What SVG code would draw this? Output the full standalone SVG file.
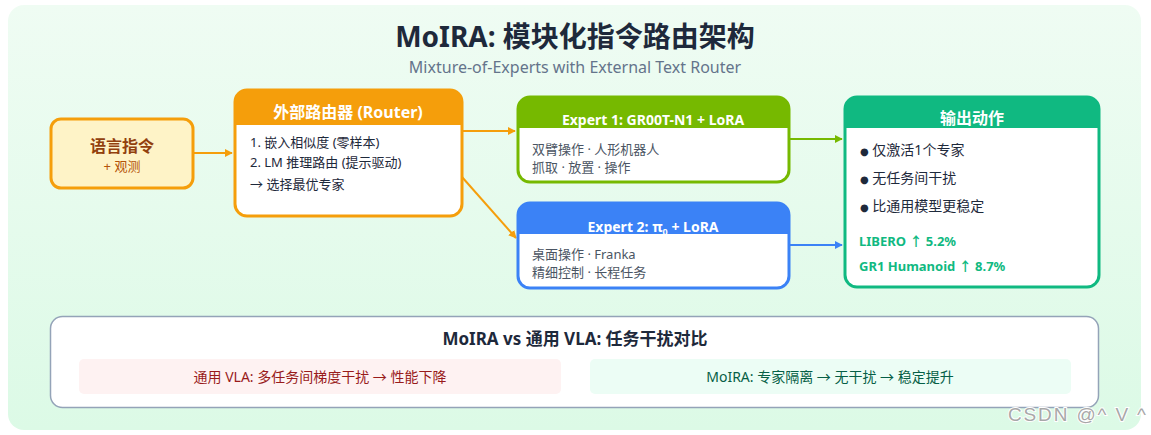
<svg xmlns="http://www.w3.org/2000/svg" width="1151" height="435" viewBox="0 0 1151 435">
<defs>
<linearGradient id="bg" x1="0" y1="0" x2="0" y2="1">
<stop offset="0" stop-color="#effcf3"/>
<stop offset="1" stop-color="#dcfae6"/>
</linearGradient>
<marker id="aO" viewBox="0 0 10 10" refX="9" refY="5" markerWidth="4" markerHeight="4" orient="auto"><path d="M0,0 L10,5 L0,10 z" fill="#f59e0b"/></marker>
<marker id="aG" viewBox="0 0 10 10" refX="9" refY="5" markerWidth="4" markerHeight="4" orient="auto"><path d="M0,0 L10,5 L0,10 z" fill="#76b900"/></marker>
<marker id="aB" viewBox="0 0 10 10" refX="9" refY="5" markerWidth="4" markerHeight="4" orient="auto"><path d="M0,0 L10,5 L0,10 z" fill="#3b82f6"/></marker>
</defs>
<style>
text{font-family:"Noto Sans","Noto Sans CJK SC",sans-serif;}
.hd{fill:#fff;font-weight:bold;text-anchor:middle;}
.body{font-size:13px;fill:#1e293b;}
.out{font-size:14px;fill:#1e293b;}
.gray{font-size:13px;fill:#4b5563;}
.stat{font-size:13px;fill:#10b981;font-weight:bold;}
.dot{font-family:"DejaVu Sans",sans-serif;font-size:10px;}
</style>
<rect x="8" y="5" width="1133" height="425" rx="16" fill="url(#bg)"/>
<text x="575" y="47" font-size="28" font-weight="bold" fill="#1e293b" text-anchor="middle">MoIRA: 模块化指令路由架构</text>
<text x="575" y="73" font-size="16" fill="#64748b" text-anchor="middle">Mixture-of-Experts with External Text Router</text>

<g id="connectors" fill="none" stroke-width="2">
<line x1="193" y1="153" x2="232" y2="153" stroke="#f59e0b" marker-end="url(#aO)"/>
<line x1="462" y1="131" x2="515" y2="131" stroke="#f59e0b" marker-end="url(#aO)"/>
<line x1="462" y1="177" x2="516" y2="238" stroke="#f59e0b" marker-end="url(#aO)"/>
<line x1="789" y1="139" x2="842" y2="139" stroke="#76b900" marker-end="url(#aG)"/>
<line x1="789" y1="245" x2="842" y2="245" stroke="#3b82f6" marker-end="url(#aB)"/>
</g>

<g id="input">
<rect x="51" y="119" width="142" height="69" rx="10" fill="#fef3c7" stroke="#f59e0b" stroke-width="3"/>
<text x="122" y="152" font-size="16" font-weight="bold" fill="#92400e" text-anchor="middle">语言指令</text>
<text x="122" y="171" font-size="13" fill="#b45309" text-anchor="middle">+ 观测</text>
</g>

<g id="router">
<rect x="235" y="90" width="227" height="126" rx="12" fill="#fff" stroke="#f59e0b" stroke-width="3"/>
<path d="M235,125 V102 a12,12 0 0 1 12,-12 H450 a12,12 0 0 1 12,12 V125 Z" fill="#f59e0b"/>
<text class="hd" x="348" y="118" font-size="16">外部路由器 (Router)</text>
<text class="body" x="250" y="147">1. 嵌入相似度 (零样本)</text>
<text class="body" x="250" y="167">2. LM 推理路由 (提示驱动)</text>
<text class="body" x="250" y="189">→ 选择最优专家</text>
</g>

<g id="expert1">
<rect x="518" y="97" width="271" height="85" rx="12" fill="#fff" stroke="#76b900" stroke-width="3"/>
<path d="M518,128 V109 a12,12 0 0 1 12,-12 H777 a12,12 0 0 1 12,12 V128 Z" fill="#76b900"/>
<text class="hd" x="653" y="125" font-size="14">Expert 1: GR00T-N1 + LoRA</text>
<text class="gray" x="532" y="154">双臂操作 · 人形机器人</text>
<text class="gray" x="532" y="172">抓取 · 放置 · 操作</text>
</g>

<g id="expert2">
<rect x="518" y="203" width="271" height="85" rx="12" fill="#fff" stroke="#3b82f6" stroke-width="3"/>
<path d="M518,234 V215 a12,12 0 0 1 12,-12 H777 a12,12 0 0 1 12,12 V234 Z" fill="#3b82f6"/>
<text class="hd" x="653" y="232" font-size="14">Expert 2: π<tspan font-size="9" dy="3">0</tspan><tspan dy="-3"> + LoRA</tspan></text>
<text class="gray" x="532" y="259">桌面操作 · Franka</text>
<text class="gray" x="532" y="277">精细控制 · 长程任务</text>
</g>

<g id="output">
<rect x="845" y="97" width="254" height="190" rx="12" fill="#fff" stroke="#10b981" stroke-width="3"/>
<path d="M845,128 V109 a12,12 0 0 1 12,-12 H1087 a12,12 0 0 1 12,12 V128 Z" fill="#10b981"/>
<text class="hd" x="972" y="124" font-size="16">输出动作</text>
<text class="out" x="860" y="155"><tspan class="dot">●</tspan> 仅激活1个专家</text>
<text class="out" x="860" y="183"><tspan class="dot">●</tspan> 无任务间干扰</text>
<text class="out" x="860" y="211"><tspan class="dot">●</tspan> 比通用模型更稳定</text>
<text class="stat" x="859" y="246">LIBERO ↑ 5.2%</text>
<text class="stat" x="859" y="271">GR1 Humanoid ↑ 8.7%</text>
</g>

<g id="compare">
<rect x="50.5" y="316.5" width="1048" height="91" rx="12" fill="#fff" stroke="#94a3b8" stroke-width="1.5"/>
<text x="575" y="345" font-size="17" font-weight="bold" fill="#1e293b" text-anchor="middle">MoIRA vs 通用 VLA: 任务干扰对比</text>
<rect x="79" y="359" width="482" height="35" rx="5" fill="#fef2f2"/>
<text x="320" y="382" font-size="14" fill="#991b1b" text-anchor="middle">通用 VLA: 多任务间梯度干扰 → 性能下降</text>
<rect x="590" y="359" width="481" height="35" rx="5" fill="#ecfdf5"/>
<text x="830" y="382" font-size="14" fill="#065f46" text-anchor="middle">MoIRA: 专家隔离 → 无干扰 → 稳定提升</text>
</g>

<text x="1008" y="421" font-size="19" textLength="138" fill="#a8a8a8" stroke="#ffffff" stroke-width="2" paint-order="stroke" style="font-family:'Liberation Sans',Arial,sans-serif">CSDN @^ V ^</text>
</svg>
